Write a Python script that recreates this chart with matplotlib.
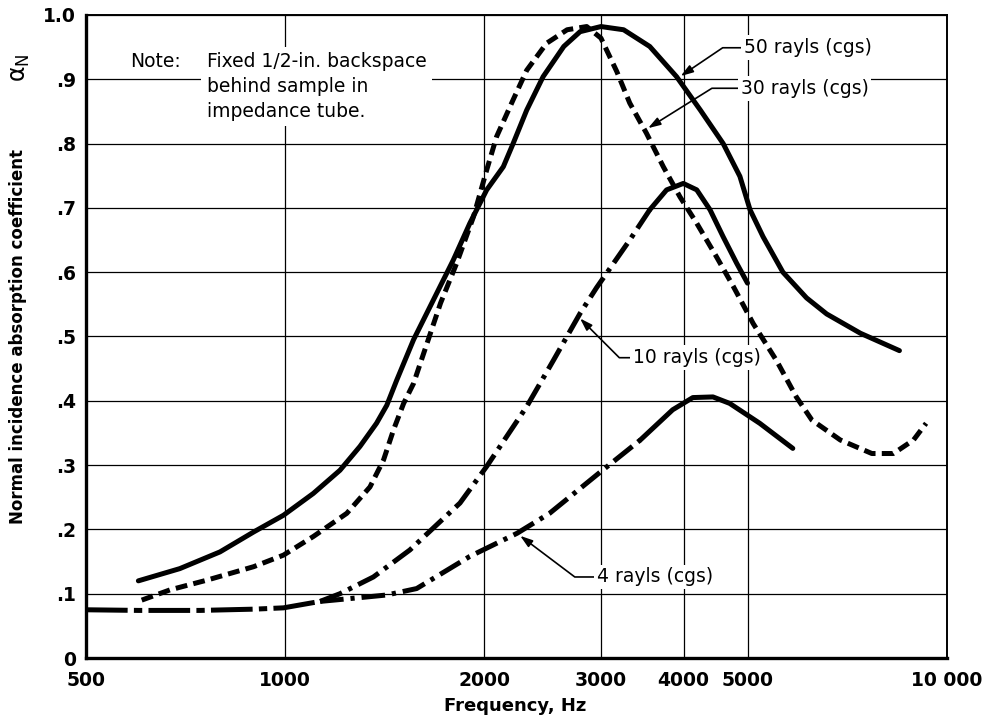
import numpy as np
import matplotlib
matplotlib.use("Agg")
import matplotlib.pyplot as plt
from matplotlib.ticker import FixedLocator, NullLocator

plt.rcParams['font.family'] = ['DejaVu Sans']
plt.rcParams['lines.scale_dashes'] = False
plt.rcParams['mathtext.fontset'] = 'dejavusans'

# ---- data: normal incidence absorption coefficient vs frequency (Hz) ----
freq_50 = [600, 693, 797, 896, 994, 1103, 1210, 1297, 1374, 1424, 1474, 1563,
           1675, 1795, 1901, 2016, 2136, 2210, 2317, 2453, 2636, 2790, 3000,
           3246, 3555, 3903, 4240, 4590, 4865, 5040, 5274, 5650, 6135, 6580,
           7400, 8475]
alpha_50 = [0.120, 0.139, 0.165, 0.196, 0.222, 0.256, 0.292, 0.329, 0.365, 0.393,
            0.432, 0.495, 0.557, 0.619, 0.676, 0.728, 0.764, 0.800, 0.852, 0.904,
            0.951, 0.974, 0.982, 0.977, 0.951, 0.904, 0.852, 0.800, 0.749, 0.697,
            0.655, 0.600, 0.560, 0.535, 0.505, 0.478]

freq_30 = [607, 670, 761, 896, 994, 1103, 1239, 1343, 1408, 1458, 1510, 1563,
           1717, 1816, 1925, 2016, 2087, 2210, 2317, 2483, 2667, 2855, 3000, 3170,
           3316, 3515, 3727, 3950, 4187, 4484, 4754, 5096, 5530, 5920, 6250, 6900,
           7700, 8300, 8900, 9300]
alpha_30 = [0.090, 0.106, 0.121, 0.142, 0.160, 0.189, 0.225, 0.266, 0.308, 0.355,
            0.396, 0.427, 0.552, 0.614, 0.686, 0.759, 0.811, 0.868, 0.914, 0.956,
            0.977, 0.982, 0.964, 0.912, 0.863, 0.816, 0.764, 0.717, 0.676, 0.624,
            0.578, 0.520, 0.462, 0.406, 0.370, 0.339, 0.318, 0.318, 0.339, 0.365]

# shared low-frequency branch of the 10 and 4 rayl curves
freq_low = [500, 600, 744, 900, 994, 1129]
alpha_low = [0.075, 0.074, 0.074, 0.076, 0.078, 0.088]

freq_10 = [1129, 1210, 1359, 1543, 1837, 2016, 2317, 2543, 2790, 2955, 3316,
           3555, 3770, 3995, 4187, 4385, 4590, 4810, 4995]
alpha_10 = [0.088, 0.100, 0.126, 0.168, 0.241, 0.298, 0.391, 0.463, 0.536, 0.576,
            0.650, 0.697, 0.728, 0.738, 0.728, 0.697, 0.655, 0.614, 0.583]
split_10 = 3555

freq_4 = [1129, 1300, 1424, 1580, 1901, 2241, 2509, 3000, 3440, 3850, 4130,
          4430, 4694, 5213, 5848]
alpha_4 = [0.088, 0.094, 0.098, 0.108, 0.158, 0.194, 0.225, 0.290, 0.339, 0.386,
           0.405, 0.406, 0.396, 0.365, 0.326]
split_4 = 3440

x_ticks = [500, 1000, 2000, 3000, 4000, 5000, 10000]
x_ticklabels = ['500', '1000', '2000', '3000', '4000', '5000', '10 000']
y_ticks = [0, 0.1, 0.2, 0.3, 0.4, 0.5, 0.6, 0.7, 0.8, 0.9, 1.0]
y_ticklabels = ['0', '.1', '.2', '.3', '.4', '.5', '.6', '.7', '.8', '.9', '1.0']

# ---- figure ----
fig = plt.figure(figsize=(9.94, 7.23), dpi=100)
ax = fig.add_axes([0.0865, 0.0899, 0.8662, 0.8894])
ax.set_xscale('log')
ax.set_xlim(500, 10000)
ax.set_ylim(0, 1.0)

ax.xaxis.set_major_locator(FixedLocator(x_ticks))
ax.xaxis.set_minor_locator(NullLocator())
ax.set_xticklabels(x_ticklabels)
ax.set_yticks(y_ticks)
ax.set_yticklabels(y_ticklabels)
ax.tick_params(length=0, labelsize=13.5)
ax.tick_params(axis='y', pad=7)
ax.tick_params(axis='x', pad=9)
for lab in ax.get_xticklabels() + ax.get_yticklabels():
    lab.set_fontweight('bold')

ax.grid(True, color='black', lw=0.9)
ax.set_axisbelow(True)
for side, lw in (('left', 2.4), ('bottom', 2.4), ('top', 1.4), ('right', 1.4)):
    ax.spines[side].set_linewidth(lw)

LW = 3.6
common = dict(color='black', lw=LW, zorder=3)

# 50 rayls: solid
ax.plot(freq_50, alpha_50, solid_capstyle='round', solid_joinstyle='round', **common)

# 30 rayls: dashed
ax.plot(freq_30, alpha_30, dashes=(8.5, 4.5), dash_capstyle='butt',
        dash_joinstyle='round', **common)

# shared low branch: long dash / short dash
ax.plot(freq_low, alpha_low, dashes=(30, 4.5, 6, 4.5), dash_capstyle='butt', **common)


def split_plot(f, a, split, dash):
    f = np.asarray(f, dtype=float)
    a = np.asarray(a, dtype=float)
    m1 = f <= split
    m2 = f >= split
    ax.plot(f[m1], a[m1], dashes=dash, dash_capstyle='butt',
            dash_joinstyle='round', **common)
    ax.plot(f[m2], a[m2], solid_capstyle='round', solid_joinstyle='round', **common)


split_plot(freq_10, alpha_10, split_10, (17, 5, 3, 5))
split_plot(freq_4, alpha_4, split_4, (17, 5, 3, 5))

# ---- curve labels ----
box = dict(boxstyle='square,pad=0.15', fc='white', ec='none')
arrow_kw = dict(arrowstyle='-|>,head_length=0.55,head_width=0.18', color='black',
                lw=1.2, shrinkA=0, shrinkB=0, relpos=(0, 0.5))


def label(text, tip, pos, angleB):
    props = dict(arrow_kw)
    props['connectionstyle'] = f'angle,angleA=180,angleB={angleB},rad=0'
    ax.annotate(text, xy=tip, xytext=pos, ha='left', va='center', fontsize=13.5,
                bbox=box, arrowprops=props, zorder=5)


label('50 rayls (cgs)', (3960, 0.905), (4930, 0.949), 34)
label('30 rayls (cgs)', (3535, 0.824), (4880, 0.886), 32)
label('10 rayls (cgs)', (2790, 0.528), (3350, 0.467), -45)
label('4 rayls (cgs)', (2265, 0.190), (2960, 0.126), -37)

# ---- note ----
ax.text(0.051, 0.942, 'Note:', transform=ax.transAxes, ha='left', va='top',
        fontsize=13.5, bbox=dict(boxstyle='square,pad=0.2', fc='white', ec='none'),
        zorder=4)
ax.text(0.1405, 0.942, 'Fixed 1/2-in. backspace\nbehind sample in\nimpedance tube.',
        transform=ax.transAxes, ha='left', va='top', fontsize=13.5, linespacing=1.38,
        bbox=dict(boxstyle='square,pad=0.3', fc='white', ec='none'), zorder=4)

# ---- axis titles ----
fig.text(515 / 994, 1 - 706 / 723, 'Frequency, Hz', ha='center', va='center',
         fontsize=13, fontweight='bold')
fig.text(18 / 994, 1 - 336 / 723, 'Normal incidence absorption coefficient',
         ha='center', va='center', rotation=90, fontsize=12, fontweight='bold')
fig.text(20 / 994, 1 - 68 / 723, r'$\mathrm{\alpha}_\mathrm{N}$', ha='center',
         va='center', rotation=90, fontsize=17)

fig.savefig('out.png', dpi=100)
